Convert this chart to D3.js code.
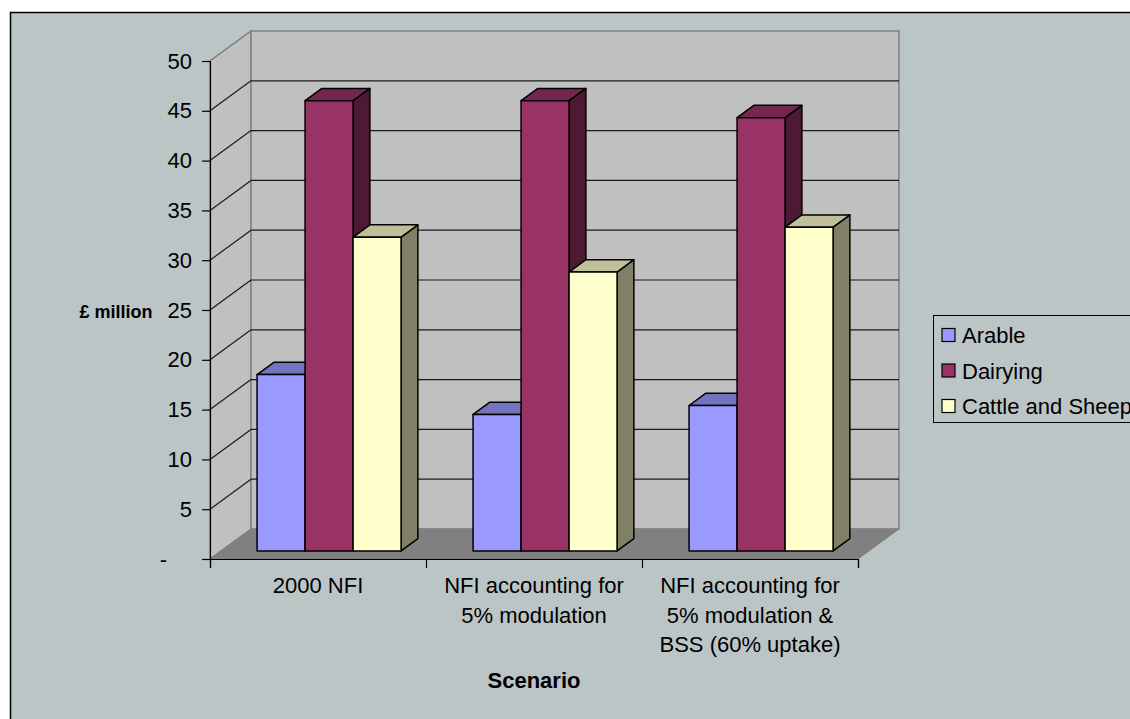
<!DOCTYPE html>
<html>
<head>
<meta charset="utf-8">
<script src="https://cdn.jsdelivr.net/npm/d3@7"></script>
<style>
  html, body { margin: 0; padding: 0; background: #ffffff; }
  svg { display: block; font-family: "Liberation Sans", Arial, sans-serif; }
</style>
</head>
<body>
<svg id="chart" width="1130" height="719"></svg>
<script>
// Farm income by scenario (£ million)
const categories = [
  ["2000 NFI"],
  ["NFI accounting for", "5% modulation"],
  ["NFI accounting for", "5% modulation &", "BSS (60% uptake)"]
];
const seriesNames = ["Arable", "Dairying", "Cattle and Sheep"];
const arable   = [17.7, 13.7, 14.6];
const dairying = [45.2, 45.2, 43.5];
const cattle   = [31.5, 28.0, 32.5];
const yTicks = [0, 5, 10, 15, 20, 25, 30, 35, 40, 45, 50];
const yTickLabels = ["-", "5", "10", "15", "20", "25", "30", "35", "40", "45", "50"];
const yTitle = "£ million";
const xTitle = "Scenario";

const seriesValues = [arable, dairying, cattle];
const faceColours = [
  { front: "#9999FF", top: "#7373BF", side: "#4D4D80" },
  { front: "#993366", top: "#732650", side: "#4D1A33" },
  { front: "#FFFFCC", top: "#BFBF99", side: "#808066" }
];

const svg = d3.select("#chart");

// outer chart area
svg.append("rect")
  .attr("x", 10.5).attr("y", 12.5)
  .attr("width", 1140).attr("height", 720)
  .attr("fill", "#BCC5C6").attr("stroke", "#000").attr("stroke-width", 1.5);

// plot geometry (front plane) and depth offset
const x0 = 210, x1 = 858, yBase = 559, yTop = 61;
const depthX = 41, depthY = -30;

const y = d3.scaleLinear().domain([0, 50]).range([yBase, yTop]);
const xBand = d3.scaleBand().domain(d3.range(categories.length)).range([x0, x1]).padding(0);
const xSub = d3.scaleBand().domain(d3.range(seriesNames.length))
  .range([xBand.bandwidth() / 6, xBand.bandwidth() * 5 / 6]).padding(0);

const pts = a => a.map(p => p.join(",")).join(" ");

// side wall
svg.append("polygon")
  .attr("points", pts([[x0, y(0)], [x0, y(50)], [x0 + depthX, y(50) + depthY], [x0 + depthX, y(0) + depthY]]))
  .attr("fill", "#C0C0C0").attr("stroke", "#808080").attr("stroke-width", 1.5);
// back wall
svg.append("polygon")
  .attr("points", pts([[x0 + depthX, y(0) + depthY], [x0 + depthX, y(50) + depthY], [x1 + depthX, y(50) + depthY], [x1 + depthX, y(0) + depthY]]))
  .attr("fill", "#C0C0C0").attr("stroke", "#808080").attr("stroke-width", 1.5);
// floor
svg.append("polygon")
  .attr("points", pts([[x0, y(0)], [x1, y(0)], [x1 + depthX, y(0) + depthY], [x0 + depthX, y(0) + depthY]]))
  .attr("fill", "#808080").attr("stroke", "#808080").attr("stroke-width", 1);

// gridlines on walls
const gridTicks = yTicks.filter(t => t > 0 && t < 50);
svg.append("g").selectAll("line.side").data(gridTicks).join("line")
  .attr("x1", x0).attr("y1", d => y(d))
  .attr("x2", x0 + depthX).attr("y2", d => y(d) + depthY)
  .attr("stroke", "#1a1a1a").attr("stroke-width", 1.2);
svg.append("g").selectAll("line.back").data(gridTicks).join("line")
  .attr("x1", x0 + depthX).attr("y1", d => y(d) + depthY)
  .attr("x2", x1 + depthX).attr("y2", d => y(d) + depthY)
  .attr("stroke", "#1a1a1a").attr("stroke-width", 1.2);

// bars: front face placed part way into the depth
const f0 = 0.27, f1 = 0.68;
const bars = [];
categories.forEach((c, ci) => {
  seriesValues.forEach((vals, si) => {
    bars.push({ ci, si, v: vals[ci] });
  });
});
const barG = svg.append("g");
bars.forEach(b => {
  const xl = xBand(b.ci) + xSub(b.si) + depthX * f0;
  const xr = xl + xSub.bandwidth();
  const yb = y(0) + depthY * f0;
  const yt = y(b.v) + depthY * f0;
  const ddx = depthX * (f1 - f0), ddy = depthY * (f1 - f0);
  const col = faceColours[b.si];
  const g = barG.append("g").attr("stroke", "#000").attr("stroke-width", 1.5).attr("stroke-linejoin", "round");
  g.append("polygon").attr("points", pts([[xr, yb], [xr, yt], [xr + ddx, yt + ddy], [xr + ddx, yb + ddy]])).attr("fill", col.side);
  g.append("polygon").attr("points", pts([[xl, yt], [xr, yt], [xr + ddx, yt + ddy], [xl + ddx, yt + ddy]])).attr("fill", col.top);
  g.append("rect").attr("x", xl).attr("y", yt).attr("width", xr - xl).attr("height", yb - yt).attr("fill", col.front);
});

// value axis
const yAxis = d3.axisLeft(y).tickValues(yTicks).tickSize(8).tickPadding(10)
  .tickFormat((d, i) => yTickLabels[i]);
const yAxisG = svg.append("g").attr("transform", `translate(${x0},0)`).call(yAxis);
yAxisG.select(".domain").attr("stroke", "#000").attr("stroke-width", 1.2);
yAxisG.selectAll(".tick line").attr("stroke", "#000").attr("stroke-width", 1.2);
yAxisG.selectAll(".tick text")
  .attr("font-size", 22).attr("fill", "#000").attr("font-family", "Liberation Sans, Arial, sans-serif")
  .attr("dx", d => d === 0 ? -25 : 0);

// category axis
const xAxis = d3.axisBottom(d3.scaleLinear().domain([0, categories.length]).range([x0, x1]))
  .tickValues(d3.range(categories.length + 1)).tickSize(9).tickFormat("");
const xAxisG = svg.append("g").attr("transform", `translate(0,${yBase})`).call(xAxis);
xAxisG.select(".domain").attr("stroke", "#000").attr("stroke-width", 1.2);
xAxisG.selectAll(".tick line").attr("stroke", "#000").attr("stroke-width", 1.2);

const catG = svg.append("g").attr("font-size", 22).attr("text-anchor", "middle").attr("fill", "#000");
categories.forEach((lines, ci) => {
  const t = catG.append("text").attr("x", xBand(ci) + xBand.bandwidth() / 2).attr("y", 593);
  lines.forEach((line, li) => {
    t.append("tspan").attr("x", xBand(ci) + xBand.bandwidth() / 2).attr("dy", li === 0 ? 0 : 29.5).text(line);
  });
});

// axis titles
svg.append("text").attr("x", 116).attr("y", 318).attr("text-anchor", "middle")
  .attr("font-size", 18).attr("font-weight", "bold").text(yTitle);
svg.append("text").attr("x", 534).attr("y", 688).attr("text-anchor", "middle")
  .attr("font-size", 22).attr("font-weight", "bold").text(xTitle);

// legend (box runs past the right edge of the chart area)
const legend = svg.append("g");
legend.append("rect").attr("x", 933.5).attr("y", 315.5).attr("width", 220).attr("height", 107)
  .attr("fill", "#BCC5C6").attr("stroke", "#000").attr("stroke-width", 1);
const legendY = d3.scalePoint().domain(seriesNames).range([335, 406]);
seriesNames.forEach((name, si) => {
  legend.append("rect").attr("x", 942).attr("y", legendY(name) - 6.5).attr("width", 13).attr("height", 13)
    .attr("fill", faceColours[si].front).attr("stroke", "#000").attr("stroke-width", 1.2);
  legend.append("text").attr("x", 962).attr("y", legendY(name) + 8).attr("font-size", 22).attr("fill", "#000").text(name);
});
</script>
</body>
</html>
